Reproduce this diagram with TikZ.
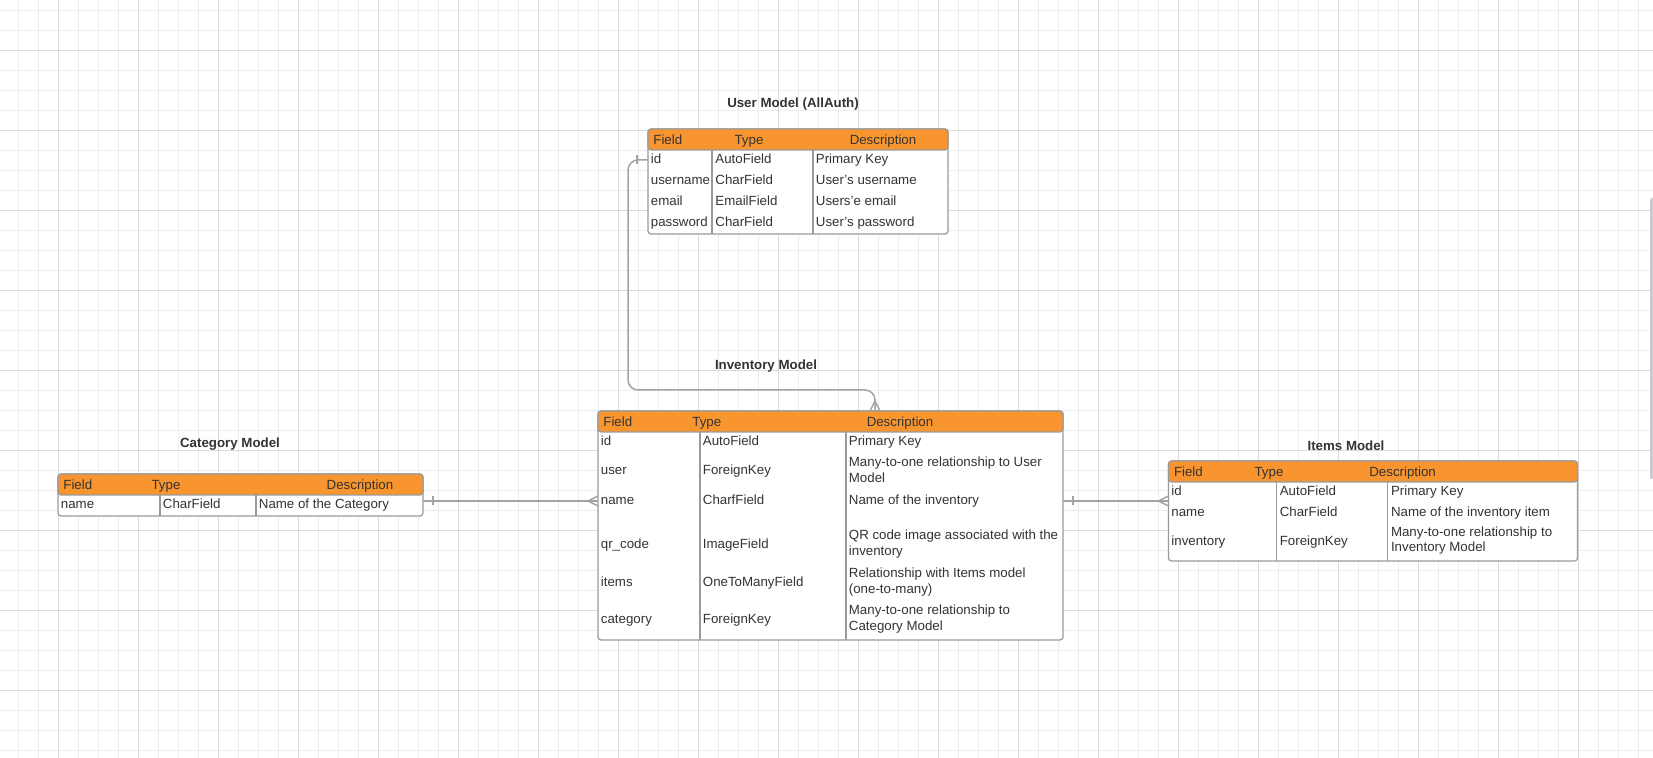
\documentclass[tikz,border=0pt]{standalone}
\usepackage{fontspec}
\setmainfont{Liberation Sans}
\usetikzlibrary{calc}
\definecolor{hdr}{HTML}{F8952F}
\definecolor{txt}{HTML}{333333}
\definecolor{bord}{HTML}{9A9A9A}
\definecolor{connc}{HTML}{A3A3A3}
\definecolor{gmin}{HTML}{EDEDED}
\definecolor{gmaj}{HTML}{DADADA}
\definecolor{sbar}{HTML}{C9C9D0}
\begin{document}
\begin{tikzpicture}[x=0.5pt,y=-0.5pt,
  minorg/.style={gmin, line width=0.5pt},
  majorg/.style={gmaj, line width=0.6pt},
  tbl/.style={draw=bord, fill=white, line width=0.6pt, rounded corners=1.5pt, anchor=north west, inner sep=0pt, outer sep=0pt},
  hdrbox/.style={draw=bord, fill=hdr, line width=0.6pt, rounded corners=1.5pt, anchor=north west, inner sep=0pt, outer sep=0pt, minimum height=10.5pt},
  cell/.style={anchor=base west, inner sep=0pt, text=txt, font=\fontsize{6.65}{7.75}\selectfont},
  mcell/.style={anchor=west, inner sep=0pt, text=txt, font=\fontsize{6.65}{7.75}\selectfont, align=left},
  hcell/.style={cell, text=black!80},
  hcellc/.style={hcell, anchor=base},
  ttl/.style={text=txt, font=\bfseries\fontsize{6.65}{8}\selectfont, inner sep=0pt},
  coldiv/.style={bord, line width=0.6pt},
  conn/.style={connc, line width=0.75pt},
]
\useasboundingbox (0,0) rectangle (1653,758);
\fill[white] (0,0) rectangle (1653,758);
% grid
\foreach \i in {0,...,82} \draw[minorg] (18.5+20*\i,0) -- (18.5+20*\i,758);
\foreach \i in {0,...,37} \draw[minorg] (0,10.5+20*\i) -- (1653,10.5+20*\i);
\foreach \i in {0,...,19} \draw[majorg] (58.5+80*\i,0) -- (58.5+80*\i,758);
\foreach \i in {0,...,8} \draw[majorg] (0,50.5+80*\i) -- (1653,50.5+80*\i);
% scrollbar
\fill[sbar, rounded corners=0.8pt] (1650,198) rectangle (1654,479);

% ---------------- User model ----------------
\node[ttl] (uTitle) at (793,104) {User Model (AllAuth)};
\node[tbl, minimum width=150pt, minimum height=52.5pt] (uT) at (648,129) {};
\node[hdrbox, minimum width=150pt] (uH) at (648,129) {};
\draw[coldiv] (712,150) -- (712,234);
\draw[coldiv] (813,150) -- (813,234);
\node[hcell] (uh1) at (653,144.2) {Field};
\node[hcellc] (uh2) at (749,144.2) {Type};
\node[hcellc] (uh3) at (883,144.2) {Description};
\node[cell] (uid) at (650.5,164) {id};
\node[cell] (uidt) at (715,164) {AutoField};
\node[cell] (uidd) at (815.5,164) {Primary Key};
\node[cell] (uun) at (650.5,184.6) {username};
\node[cell] (uunt) at (715,184.6) {CharField};
\node[cell] (uund) at (815.5,184.6) {User's username};
\node[cell] (uem) at (650.5,205.2) {email};
\node[cell] (uemt) at (715,205.2) {EmailField};
\node[cell] (uemd) at (815.5,205.2) {Users'e email};
\node[cell] (upw) at (650.5,226.8) {password};
\node[cell] (upwt) at (715,226.8) {CharField};
\node[cell] (upwd) at (815.5,226.8) {User's password};

% ---------------- Inventory model ----------------
\node[ttl] (iTitle) at (766,366) {Inventory Model};
\node[tbl, minimum width=232.5pt, minimum height=114.5pt] (iT) at (598,411) {};
\node[hdrbox, minimum width=232.5pt] (iH) at (598,411) {};
\draw[coldiv] (700,432) -- (700,640);
\draw[coldiv] (846,432) -- (846,640);
\node[hcell] (ih1) at (603,426.2) {Field};
\node[hcell] (ih2) at (692,426.2) {Type};
\node[hcellc] (ih3) at (900,426.2) {Description};
\node[cell] (iid) at (600.5,445.4) {id};
\node[cell] (iidt) at (702.5,445.4) {AutoField};
\node[cell] (iidd) at (848.5,445.4) {Primary Key};
\node[cell] (ius) at (600.5,474.6) {user};
\node[cell] (iust) at (702.5,474.6) {ForeignKey};
\node[mcell] (iusd) at (848.5,469.7) {Many-to-one relationship to User\\Model};
\node[cell] (ina) at (600.5,504) {name};
\node[cell] (inat) at (702.5,504) {CharfField};
\node[cell] (inad) at (848.5,504) {Name of the inventory};
\node[cell] (iqr) at (600.5,548.9) {qr\_code};
\node[cell] (iqrt) at (702.5,548.9) {ImageField};
\node[mcell] (iqrd) at (848.5,544.3) {QR code image associated with the\\inventory};
\node[cell] (iit) at (600.5,586.3) {items};
\node[cell] (iitt) at (702.5,586.3) {OneToManyField};
\node[mcell] (iitd) at (848.5,582) {Relationship with Items model\\(one-to-many)};
\node[cell] (ica) at (600.5,623.9) {category};
\node[cell] (icat) at (702.5,623.9) {ForeignKey};
\node[mcell] (icad) at (848.5,619.2) {Many-to-one relationship to\\Category Model};

% ---------------- Category model ----------------
\node[ttl] (cTitle) at (230,444) {Category Model};
\node[tbl, minimum width=182.5pt, minimum height=21pt] (cT) at (58,474) {};
\node[hdrbox, minimum width=182.5pt] (cH) at (58,474) {};
\draw[coldiv] (160,495) -- (160,516);
\draw[coldiv] (256,495) -- (256,516);
\node[hcell] (ch1) at (63,489.1) {Field};
\node[hcellc] (ch2) at (166,489.1) {Type};
\node[hcellc] (ch3) at (360,489.1) {Description};
\node[cell] (cna) at (60.5,508.8) {name};
\node[cell] (cnat) at (162.5,508.8) {CharField};
\node[cell] (cnad) at (258.5,508.8) {Name of the Category};

% ---------------- Items model ----------------
\node[ttl] (tTitle) at (1346,446) {Items Model};
\node[tbl, minimum width=204.5pt, minimum height=50pt] (tT) at (1168.5,461) {};
\node[hdrbox, minimum width=204.5pt] (tH) at (1168.5,461) {};
\draw[coldiv] (1276.3,482) -- (1276.3,561);
\draw[coldiv] (1387.8,482) -- (1387.8,561);
\node[hcell] (th1) at (1173.6,476.1) {Field};
\node[hcellc] (th2) at (1269,476.1) {Type};
\node[hcellc] (th3) at (1402.6,476.1) {Description};
\node[cell] (tid) at (1171,495.2) {id};
\node[cell] (tidt) at (1279.4,495.2) {AutoField};
\node[cell] (tidd) at (1390.6,495.2) {Primary Key};
\node[cell] (tna) at (1171,516.2) {name};
\node[cell] (tnat) at (1279.4,516.2) {CharField};
\node[cell] (tnad) at (1390.6,516.2) {Name of the inventory item};
\node[cell] (tin) at (1171,545.2) {inventory};
\node[cell] (tint) at (1279.4,545.2) {ForeignKey};
\node[mcell] (tind) at (1390.6,540.8) {Many-to-one relationship to\\Inventory Model};

% ---------------- connectors ----------------
\coordinate (bendA) at (628,390);
\coordinate (invtop) at (875,411);
\coordinate (rowy) at (0,501);
\coordinate (uidy) at (0,160);
% user -> inventory
\coordinate (uA) at (uT.west |- uidy);
\draw[conn, rounded corners=5pt] (uA) -| (bendA) -| (invtop);
\draw[conn] ($(uA)+(-11,-4.5)$) -- ($(uA)+(-11,4.5)$);
\draw[conn] ($(invtop)+(0,-10)$) -- ($(invtop)+(-5,0)$);
\draw[conn] ($(invtop)+(0,-10)$) -- ($(invtop)+(5,0)$);
% category -> inventory
\coordinate (cA) at (cT.east |- rowy);
\coordinate (cB) at (iT.west |- rowy);
\draw[conn] (cA) -- (cB);
\draw[conn] ($(cA)+(10,-4.5)$) -- ($(cA)+(10,4.5)$);
\draw[conn] ($(cB)+(-10,0)$) -- ($(cB)+(0,-5)$);
\draw[conn] ($(cB)+(-10,0)$) -- ($(cB)+(0,5)$);
% inventory -> items
\coordinate (tA) at (iT.east |- rowy);
\coordinate (tB) at (tT.west |- rowy);
\draw[conn] (tA) -- (tB);
\draw[conn] ($(tA)+(10,-4.5)$) -- ($(tA)+(10,4.5)$);
\draw[conn] ($(tB)+(-10,0)$) -- ($(tB)+(0,-5)$);
\draw[conn] ($(tB)+(-10,0)$) -- ($(tB)+(0,5)$);
\end{tikzpicture}
\end{document}
